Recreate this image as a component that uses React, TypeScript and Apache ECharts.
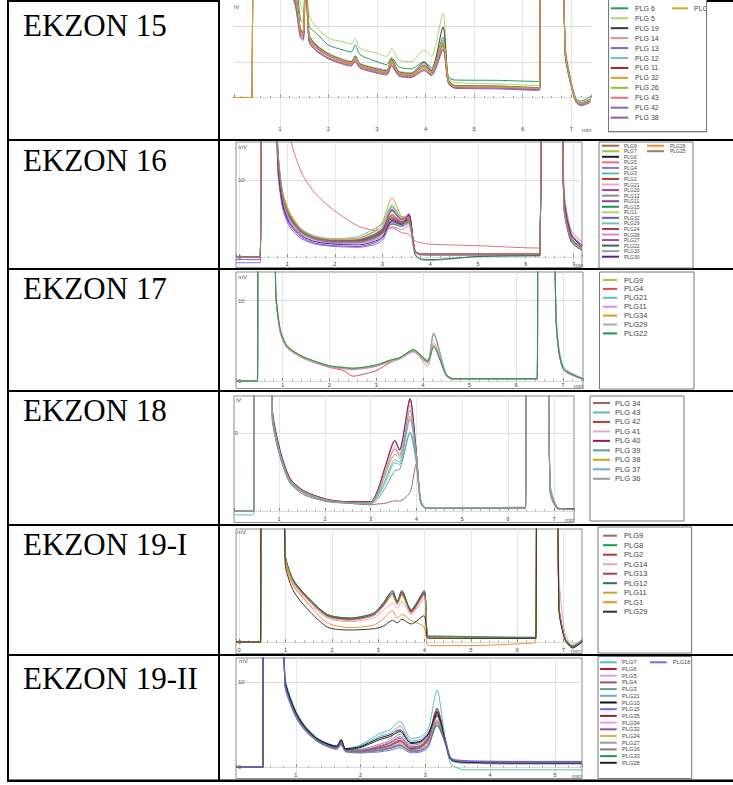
import React, { useEffect, useRef } from "react";
import * as echarts from "echarts";

// ---------- row labels ----------
const ROW_LABELS = ["EKZON 15", "EKZON 16", "EKZON 17", "EKZON 18", "EKZON 19-I", "EKZON 19-II"];

// ---------- EKZON 15 ----------
const T1 = [0.04, 0.43, 0.44, 0.47, 1.3, 1.42, 1.48, 1.53, 1.6, 1.75, 2.0, 2.3, 2.47, 2.55, 2.65, 3.0, 3.2, 3.3, 3.45, 3.7, 3.97, 4.12, 4.36, 4.47, 4.6, 5.5, 6.33, 6.35, 6.42, 6.78, 6.88, 7.0, 7.1, 7.2, 7.4];
const N1 = ["PLG 6", "PLG 5", "PLG 19", "PLG 14", "PLG 13", "PLG 12", "PLG 11", "PLG 32", "PLG 26", "PLG 43", "PLG 42", "PLG 38", "PLG"];
const C1 = ["#1f9e5c", "#a8d86e", "#3a3a3a", "#ec8a93", "#7868d8", "#6cc7c2", "#a31f2b", "#d9a520", "#8cc63e", "#e6707c", "#7d68cc", "#9b5a9b", "#d9a520"];
const V1 = [
  [0, 0, 0, 60, 34, 22, 21, 40, 20, 18, 14.7, 13.3, 12.8, 14.7, 12, 10, 9.2, 11.2, 8.6, 8, 10, 8.3, 16.9, 5.8, 4.9, 4.8, 4.5, 4.5, 60, 60, 14, 4.5, -0.3, -1, 0.3],
  [0, 0, 0, 60, 40, 26, 24, 40, 23, 19.8, 16.6, 15.6, 15, 16.6, 13.8, 12.4, 11.5, 13.8, 10.5, 10, 13.3, 11.5, 23.6, 5.5, 4.2, 3.8, 3.4, 3.4, 60, 60, 13.5, 4.2, -0.6, -1.3, -0.2],
  [0, 0, 0, 60, 30, 19, 18, 40, 17.5, 14.6, 12.2, 10.5, 10, 11.6, 9.4, 8.0, 7.5, 10.8, 7.2, 6.8, 9.8, 7.6, 19.7, 5.0, 3.4, 3.2, 2.8, 2.8, 60, 60, 13, 3.9, -0.8, -1.6, -0.6],
  [0, 0, 0, 60, 29, 18.5, 17.5, 38, 16.8, 14, 11.8, 10.2, 9.6, 11, 9, 7.6, 7.1, 10, 6.8, 6.4, 8.8, 7, 15.5, 4.6, 3.1, 3.0, 2.6, 2.6, 60, 60, 12.5, 3.8, -0.9, -1.7, -0.7],
  [0, 0, 0, 60, 28, 18, 17, 37, 16.5, 13.8, 11.6, 10, 9.4, 10.8, 8.8, 7.4, 6.9, 9.6, 6.6, 6.2, 8.6, 6.8, 14.8, 4.4, 3.0, 2.9, 2.5, 2.5, 60, 60, 12.2, 3.6, -1, -1.8, -0.8],
  [0, 0, 0, 60, 30, 19.5, 18.5, 40, 17.8, 14.8, 12.4, 10.7, 10.2, 11.8, 9.6, 8.2, 7.7, 11, 7.4, 7.0, 9.2, 7.8, 16.1, 4.9, 3.3, 3.2, 2.8, 2.8, 60, 60, 13, 3.9, -0.7, -1.5, -0.5],
  [0, 0, 0, 60, 30, 19, 18.2, 40, 17.4, 14.5, 12.1, 10.5, 9.9, 11.4, 9.3, 7.9, 7.4, 10.6, 7.1, 6.7, 9.0, 7.4, 15.2, 4.8, 3.3, 3.1, 2.7, 2.7, 60, 60, 12.8, 3.9, -0.8, -1.6, -0.5],
  [0, 0, 0, 60, 28, 17.5, 16.8, 36, 16, 13.4, 11.2, 9.7, 9.2, 10.4, 8.6, 7.2, 6.7, 9.3, 6.4, 6.0, 8.0, 6.5, 14.2, 4.2, 2.8, 2.7, 2.3, 2.3, 60, 60, 12, 3.5, -1.1, -2, -0.9],
  [0, 0, 0, 60, 29, 18.6, 17.6, 38, 17, 14.2, 11.9, 10.3, 9.7, 11.2, 9.1, 7.7, 7.2, 10.2, 6.9, 6.5, 8.7, 7.1, 15.0, 4.6, 3.2, 3.0, 2.6, 2.6, 60, 60, 12.6, 3.8, -0.9, -1.7, -0.6],
  [0, 0, 0, 60, 28.5, 18.2, 17.2, 37, 16.6, 13.9, 11.7, 10.1, 9.5, 10.9, 8.9, 7.5, 7.0, 9.8, 6.7, 6.3, 8.4, 6.9, 14.5, 4.5, 3.0, 2.9, 2.4, 2.4, 60, 60, 12.3, 3.7, -1, -1.8, -0.7],
  [0, 0, 0, 60, 27, 17.2, 16.5, 36, 15.8, 13.2, 11, 9.5, 9.0, 10.2, 8.4, 7.0, 6.5, 9.0, 6.2, 5.8, 7.8, 6.3, 13.6, 4.1, 2.7, 2.6, 2.2, 2.2, 60, 60, 11.8, 3.4, -1.2, -2.1, -1],
  [0, 0, 0, 60, 26.5, 16.8, 16, 35, 15.5, 13, 10.8, 9.3, 8.8, 10, 8.2, 6.8, 6.3, 8.8, 6.0, 5.6, 7.5, 6.1, 13.3, 4.0, 2.6, 2.4, 2.0, 2.0, 60, 60, 11.5, 3.3, -1.3, -2.3, -1.4],
  [0, 0, 0, 60, 29.5, 18.8, 17.8, 39, 17.2, 14.3, 12, 10.4, 9.8, 11.3, 9.2, 7.8, 7.3, 10.4, 7.0, 6.6, 8.9, 7.2, 15.7, 4.7, 3.2, 3.0, 2.6, 2.6, 60, 60, 12.7, 3.8, -0.9, -1.6, -0.6],
];

// ---------- EKZON 16 ----------
const T2 = [-0.07, 0.42, 0.44, 0.48, 0.72, 0.8, 0.9, 1.05, 1.3, 1.6, 2.0, 2.5, 2.8, 3.0, 3.2, 3.4, 3.55, 3.68, 3.8, 4.0, 5.0, 6.28, 6.3, 6.36, 6.4, 6.68, 6.8, 6.95, 7.18];
const N2 = ["PLG9", "PLG7", "PLG6", "PLG5", "PLG4", "PLG3", "PLG2", "PLG21", "PLG20", "PLG12", "PLG11", "PLG15", "PLG1", "PLG32", "PLG29", "PLG24", "PLG28", "PLG27", "PLG22", "PLG33", "PLG30", "PLG26", "PLG25"];
const C2 = ["#a0675b", "#9acd32", "#1e1e1e", "#e8707e", "#8470d8", "#5dbdb8", "#c0392b", "#eaa8dc", "#a0488f", "#8c8c8c", "#8e44ad", "#1a9850", "#a6d96a", "#6a5acd", "#66c2c2", "#b03a3a", "#e088d4", "#9c4f9c", "#2e6b50", "#9a9a9a", "#5b1a9a", "#f28e2b", "#a57868"];
const V2 = [
  [0, 0, 0, 60, 60, 14, 8, 5.4, 3.4, 2.4, 2.0, 2.1, 2.6, 3.4, 5.6, 4.6, 5.0, 0.8, 0.4, 0.4, 0.4, 0.4, 0.4, 60, 60, 60, 7, 2.4, 1.2],
  [0, 0, 0, 60, 60, 15, 8.6, 5.8, 3.6, 2.6, 2.2, 2.3, 2.9, 3.8, 6.6, 5.0, 5.4, 0.9, 0.5, 0.5, 0.5, 0.4, 0.4, 60, 60, 60, 7.5, 2.6, 1.3],
  [0, 0, 0, 60, 60, 14.5, 8.2, 5.5, 3.4, 2.5, 2.1, 2.2, 2.7, 3.4, 5.0, 4.4, 4.8, 0.8, 0.4, 0.4, 0.4, 0.4, 0.4, 60, 60, 60, 7.2, 2.5, 1.2],
  [0, 0, 0, 60, 60, 60, 30, 16, 11, 8.2, 6.0, 4.0, 3.5, 3.4, 3.8, 3.2, 3.0, 2.1, 1.9, 1.7, 1.5, 1.2, 1.2, 60, 60, 60, 9, 3.5, 2.0],
  [-0.7, -0.7, -0.7, 60, 60, 12, 6.5, 4.0, 2.4, 1.7, 1.4, 1.3, 1.6, 2.2, 4.4, 4.0, 5.7, 0.8, 0.4, 0.3, 0.3, 0.3, 0.3, 60, 60, 60, 8, 3.0, 1.5],
  [0, 0, 0, 60, 60, 13.5, 7.6, 5.0, 3.2, 2.4, 2.1, 2.4, 3.2, 4.2, 6.8, 5.2, 5.2, 0.4, -0.3, -0.4, 0.1, 0.2, 0.2, 60, 60, 60, 6.5, 2.0, 0.9],
  [0, 0, 0, 60, 60, 14, 8, 5.3, 3.3, 2.4, 2.0, 2.0, 2.5, 3.2, 5.2, 4.5, 4.9, 0.8, 0.4, 0.4, 0.4, 0.4, 0.4, 60, 60, 60, 7, 2.4, 1.1],
  [0, 0, 0, 60, 60, 13, 7.3, 4.7, 2.9, 2.1, 1.8, 1.8, 2.2, 2.8, 4.0, 3.6, 4.2, 0.7, 0.4, 0.4, 0.4, 0.4, 0.4, 60, 60, 60, 6.8, 2.3, 1.1],
  [0, 0, 0, 60, 60, 14.2, 8.1, 5.4, 3.4, 2.5, 2.1, 2.1, 2.7, 3.5, 6.0, 4.8, 5.3, 0.8, 0.4, 0.4, 0.4, 0.4, 0.4, 60, 60, 60, 7.2, 2.5, 1.2],
  [0, 0, 0, 60, 60, 13.8, 7.8, 5.1, 3.2, 2.3, 1.9, 1.9, 2.4, 3.1, 4.8, 4.3, 4.6, 0.7, 0.4, 0.4, 0.4, 0.4, 0.4, 60, 60, 60, 7, 2.4, 1.1],
  [0, 0, 0, 60, 60, 14.6, 8.4, 5.6, 3.5, 2.6, 2.2, 2.3, 2.9, 3.7, 6.2, 5.0, 5.5, 0.8, 0.4, 0.4, 0.4, 0.4, 0.4, 60, 60, 60, 7.4, 2.6, 1.2],
  [0, 0, 0, 60, 60, 14.3, 8.2, 5.5, 3.4, 2.5, 2.1, 2.1, 2.6, 3.3, 4.6, 4.2, 4.7, 0.8, 0.4, 0.4, 0.4, 0.4, 0.4, 60, 60, 60, 7.1, 2.5, 1.2],
  [0, 0, 0, 60, 60, 15, 8.7, 5.9, 3.7, 2.7, 2.3, 2.4, 3.0, 3.9, 6.4, 5.1, 5.2, 0.9, 0.5, 0.5, 0.5, 0.5, 0.5, 60, 60, 60, 7.4, 2.6, 1.3],
  [-0.3, -0.3, -0.3, 60, 60, 12.5, 6.9, 4.3, 2.6, 1.8, 1.5, 1.4, 1.8, 2.5, 4.6, 4.2, 5.1, 0.7, 0.3, 0.3, 0.3, 0.3, 0.3, 60, 60, 60, 8.2, 3.1, 1.6],
  [0, 0, 0, 60, 60, 14.8, 8.5, 5.7, 3.6, 2.7, 2.4, 2.7, 3.6, 4.4, 6.5, 5.1, 5.0, 0.8, 0.4, 0.4, 0.4, 0.4, 0.4, 60, 60, 60, 7.3, 2.5, 1.2],
  [0, 0, 0, 60, 60, 14.1, 8.1, 5.3, 3.3, 2.4, 2.0, 2.0, 2.5, 3.2, 5.4, 4.6, 5.0, 0.8, 0.4, 0.4, 0.4, 0.4, 0.4, 60, 60, 60, 7.1, 2.4, 1.2],
  [0, 0, 0, 60, 60, 13.2, 7.4, 4.8, 3.0, 2.2, 1.8, 1.8, 2.2, 2.8, 3.9, 3.6, 4.1, 0.7, 0.4, 0.4, 0.4, 0.4, 0.4, 60, 60, 60, 6.9, 2.4, 1.1],
  [0, 0, 0, 60, 60, 14.4, 8.3, 5.5, 3.4, 2.5, 2.1, 2.2, 2.8, 3.6, 6.1, 4.9, 5.4, 0.8, 0.4, 0.4, 0.4, 0.4, 0.4, 60, 60, 60, 7.3, 2.5, 1.2],
  [0, 0, 0, 60, 60, 13.9, 7.9, 5.2, 3.3, 2.4, 2.0, 2.0, 2.5, 3.1, 4.3, 4.0, 4.5, 0.4, -0.2, -0.3, 0.1, 0.2, 0.2, 60, 60, 60, 6.6, 2.1, 0.9],
  [0, 0, 0, 60, 60, 13.6, 7.7, 5.0, 3.1, 2.3, 1.9, 1.9, 2.3, 3.0, 4.4, 4.0, 4.4, 0.7, 0.4, 0.4, 0.4, 0.4, 0.4, 60, 60, 60, 6.9, 2.3, 1.1],
  [0, 0, 0, 60, 60, 12.8, 7.1, 4.5, 2.8, 2.0, 1.7, 1.6, 2.0, 2.6, 4.8, 4.3, 5.5, 0.8, 0.4, 0.4, 0.4, 0.4, 0.4, 60, 60, 60, 7.8, 2.9, 1.4],
  [0, 0, 0, 60, 60, 14.7, 8.5, 5.7, 3.5, 2.6, 2.3, 2.5, 3.3, 4.6, 7.7, 5.3, 5.1, 0.8, 0.4, 0.4, 0.4, 0.4, 0.4, 60, 60, 60, 7.2, 2.5, 1.2],
  [0, 0, 0, 60, 60, 14, 8, 5.3, 3.3, 2.4, 2.0, 2.0, 2.5, 3.2, 5.1, 4.4, 4.8, 0.8, 0.4, 0.4, 0.4, 0.4, 0.4, 60, 60, 60, 7, 2.4, 1.2],
];

// ---------- EKZON 17 ----------
const T3 = [0, 0.44, 0.46, 0.49, 0.78, 0.85, 0.95, 1.1, 1.45, 2.0, 2.3, 2.5, 2.7, 3.0, 3.3, 3.5, 3.8, 4.1, 4.23, 4.5, 4.65, 5.5, 6.43, 6.45, 6.5, 6.75, 6.85, 7.0, 7.43];
const N3 = ["PLG9", "PLG4", "PLG21", "PLG11", "PLG34", "PLG29", "PLG22"];
const C3 = ["#9acd32", "#e9455a", "#5bbdbd", "#e08ad8", "#d4a017", "#aaaaaa", "#1a9850"];
const V3 = [
  [0, 0, 0, 60, 60, 11.5, 6.4, 4.4, 3.0, 1.9, 1.7, 1.6, 1.7, 2.0, 2.6, 2.9, 3.9, 2.5, 4.5, 0.8, 0.3, 0.3, 0.3, 0.3, 60, 60, 8.5, 1.6, 0.3],
  [0, 0, 0, 60, 60, 11, 6.0, 4.1, 2.8, 1.7, 1.3, 0.6, 0.8, 1.3, 2.3, 2.8, 3.7, 2.3, 5.8, 0.7, 0.2, 0.2, 0.2, 0.2, 60, 60, 8, 1.5, 0.2],
  [0, 0, 0, 60, 60, 11.2, 6.2, 4.2, 2.9, 1.8, 1.6, 1.5, 1.6, 1.9, 2.5, 2.9, 3.8, 2.6, 6.0, 0.9, 0.3, 0.2, 0.2, 0.2, 60, 60, 9, 1.9, 0.3],
  [0, 0, 0, 60, 60, 11, 6.0, 4.1, 2.8, 1.7, 1.5, 1.4, 1.5, 1.8, 2.4, 2.7, 3.6, 2.2, 4.8, 0.6, 0.2, 0.2, 0.2, 0.2, 60, 60, 8.2, 1.5, 0.2],
  [0, 0, 0, 60, 60, 11.3, 6.2, 4.3, 2.9, 1.8, 1.6, 1.5, 1.6, 1.9, 2.5, 2.8, 3.8, 2.4, 4.4, 0.7, 0.3, 0.3, 0.3, 0.3, 60, 60, 8.4, 1.6, 0.3],
  [0, 0, 0, 60, 60, 11.1, 6.1, 4.2, 2.9, 1.8, 1.6, 1.5, 1.6, 1.9, 2.4, 2.8, 3.7, 1.8, 4.3, 0.8, 0.3, 0.2, 0.2, 0.2, 60, 60, 8.6, 1.7, 0.2],
  [0, 0, 0, 60, 60, 11.4, 6.3, 4.3, 3.0, 1.9, 1.7, 1.6, 1.7, 2.0, 2.6, 2.9, 3.9, 2.5, 4.2, 0.8, 0.3, 0.3, 0.3, 0.3, 60, 60, 8.3, 1.6, 0.3],
];

// ---------- EKZON 18 ----------
const T4 = [0.02, 0.43, 0.45, 0.48, 0.75, 0.85, 1.02, 1.24, 1.54, 2.05, 2.5, 3.0, 3.15, 3.32, 3.53, 3.63, 3.86, 3.99, 4.09, 4.2, 5.0, 6.36, 6.38, 6.45, 6.78, 6.92, 7.1, 7.44];
const N4 = ["PLG 34", "PLG 43", "PLG 42", "PLG 41", "PLG 40", "PLG 39", "PLG 38", "PLG 37", "PLG 36"];
const C4 = ["#a0665c", "#5bbdbd", "#c0392b", "#e3a8e0", "#8b1a6b", "#5f9f8f", "#d4a017", "#5dade2", "#999999"];
const V4 = [
  [0, 0, 0, 60, 60, 12, 7.0, 3.6, 2.1, 1.2, 1.0, 0.8, 0.9, 1.0, 1.3, 1.3, 2.4, 6.0, 1.0, 0.4, 0.4, 0.4, 0.4, 60, 60, 2.4, 0.3, 0.3],
  [-0.5, -0.5, -0.5, 60, 60, 12.5, 7.4, 3.9, 2.4, 1.4, 1.1, 1.0, 1.8, 3.6, 6.2, 6.0, 10.2, 7.0, 1.2, 0.3, 0.3, 0.3, 0.3, 60, 60, 3.5, 0.4, 0.2],
  [0, 0, 0, 60, 60, 13.2, 7.8, 4.2, 2.6, 1.5, 1.2, 1.2, 2.6, 5.6, 9.0, 7.8, 14.3, 8.0, 1.5, 0.4, 0.4, 0.4, 0.4, 60, 60, 2.8, 0.3, 0.3],
  [0, 0, 0, 60, 60, 13, 7.6, 4.0, 2.5, 1.4, 1.1, 1.1, 2.4, 5.2, 8.3, 7.3, 13.6, 7.8, 1.4, 0.4, 0.4, 0.4, 0.4, 60, 60, 3.0, 0.3, 0.2],
  [0, 0, 0, 60, 60, 13.4, 7.9, 4.2, 2.6, 1.5, 1.2, 1.2, 2.6, 5.8, 9.1, 7.9, 14.5, 8.1, 1.5, 0.4, 0.4, 0.4, 0.4, 60, 60, 2.9, 0.3, 0.3],
  [0, 0, 0, 60, 60, 12.2, 7.1, 3.7, 2.3, 1.3, 1.0, 0.9, 1.5, 3.0, 5.2, 5.3, 10.0, 6.5, 1.3, 0.4, 0.4, 0.4, 0.4, 60, 60, 2.6, 0.2, 0.2],
  [0, 0, 0, 60, 60, 12.6, 7.3, 3.9, 2.4, 1.4, 1.1, 1.0, 2.1, 4.6, 7.3, 6.8, 12.2, 7.4, 1.4, 0.4, 0.4, 0.5, 0.5, 60, 60, 2.2, 0.3, 0.2],
  [0, 0, 0, 60, 60, 12.4, 7.2, 3.8, 2.3, 1.3, 1.1, 1.0, 1.9, 4.0, 6.6, 6.3, 11.8, 7.2, 1.3, 0.4, 0.4, 0.4, 0.4, 60, 60, 3.2, 0.4, 0.2],
  [0, 0, 0, 60, 60, 12.8, 7.5, 4.0, 2.5, 1.4, 1.1, 1.1, 2.3, 5.0, 8.0, 7.1, 13.0, 7.6, 1.4, 0.4, 0.4, 0.4, 0.4, 60, 60, 2.7, 0.3, 0.2],
];

// ---------- EKZON 19-I ----------
const T5 = [-0.07, 0.44, 0.46, 0.49, 0.85, 0.99, 1.15, 1.39, 1.9, 2.4, 2.9, 3.1, 3.31, 3.41, 3.51, 3.71, 3.99, 4.07, 4.2, 5.0, 6.3, 6.4, 6.45, 6.78, 6.9, 7.03, 7.2, 7.4];
const N5 = ["PLG9", "PLG8", "PLG2", "PLG14", "PLG13", "PLG12", "PLG11", "PLG1", "PLG29"];
const C5 = ["#a0665c", "#1a9850", "#c0392b", "#e3a0d8", "#9e3a8a", "#2f6f5f", "#c8a82a", "#f28e2b", "#333333"];
const V5 = [
  [0, 0, 0, 60, 60, 7.3, 5.2, 4.0, 2.2, 1.9, 2.3, 3.1, 4.1, 3.3, 4.1, 2.5, 4.0, 0.4, 0.4, 0.35, 0.3, 0.3, 60, 60, 3, 0.3, -0.4, 0.1],
  [0, 0, 0, 60, 60, 7.4, 5.3, 4.1, 2.3, 2.0, 2.4, 3.2, 4.2, 3.4, 4.2, 2.6, 4.2, 0.5, 0.5, 0.45, 0.4, 0.4, 60, 60, 3.2, 0.4, -0.3, 0.2],
  [0, 0, 0, 60, 60, 7.2, 5.1, 3.9, 2.2, 1.9, 2.2, 3.0, 4.0, 3.2, 4.0, 2.5, 4.1, 0.4, 0.4, 0.35, 0.3, 0.3, 60, 60, 3, 0.3, -0.4, 0.1],
  [0, 0, 0, 60, 60, 7.0, 4.9, 3.7, 2.0, 1.7, 2.0, 2.6, 3.2, 2.8, 3.4, 2.3, 3.6, 0.4, 0.4, 0.35, 0.3, 0.3, 60, 60, 6, 0.8, -0.2, 0.1],
  [0, 0, 0, 60, 60, 7.3, 5.2, 4.0, 2.2, 1.9, 2.3, 3.1, 4.0, 3.3, 4.2, 2.6, 4.1, 0.4, 0.4, 0.35, 0.3, 0.3, 60, 60, 3.1, 0.3, -0.4, 0.1],
  [0, 0, 0, 60, 60, 7.4, 5.3, 4.1, 2.3, 2.0, 2.4, 3.2, 4.3, 3.4, 4.3, 2.7, 4.3, 0.5, 0.45, 0.4, 0.35, 0.35, 60, 60, 3.2, 0.3, -0.4, 0.1],
  [0, 0, 0, 60, 60, 7.2, 5.1, 3.9, 2.1, 1.8, 2.2, 2.9, 3.8, 3.1, 3.9, 2.4, 3.9, 0.4, 0.4, 0.35, 0.3, 0.3, 60, 60, 3, 0.3, -0.5, 0.0],
  [0, 0, 0, 60, 60, 7.0, 4.8, 3.6, 1.6, 1.2, 1.4, 1.9, 2.6, 2.0, 2.3, 1.8, 1.25, -0.3, -0.3, -0.3, -0.1, 0.0, 60, 60, 3, 0.2, -0.5, 0.0],
  [0, 0, 0, 60, 60, 6.6, 4.4, 3.1, 1.25, 1.0, 1.1, 1.3, 1.8, 1.6, 1.9, 1.5, 2.2, 0.3, 0.3, 0.3, 0.3, 0.3, 60, 60, 2.8, 0.2, -0.5, 0.0],
];

// ---------- EKZON 19-II ----------
const T6 = [0.08, 0.47, 0.49, 0.52, 0.76, 0.83, 0.98, 1.12, 1.34, 1.63, 1.7, 1.77, 1.99, 2.28, 2.45, 2.61, 2.78, 2.93, 3.05, 3.18, 3.32, 3.4, 3.6, 4.5, 5.42];
const N6 = ["PLG7", "PLG6", "PLG5", "PLG4", "PLG3", "PLG21", "PLG10", "PLG15", "PLG35", "PLG34", "PLG32", "PLG24", "PLG27", "PLG16", "PLG33", "PLG28", "PLG18"];
const C6 = ["#5bbdb8", "#b22234", "#e3a0d8", "#a0488f", "#5f9f8f", "#5dade2", "#111111", "#7b68ee", "#a02030", "#eea0dd", "#9e4f9e", "#d8b84a", "#999999", "#a07060", "#1a9850", "#222222", "#7b68ee"];
const V6 = [
  [0, 0, 0, 60, 60, 10.8, 7.0, 5.1, 3.4, 2.5, 3.4, 2.2, 2.6, 3.9, 4.4, 5.4, 3.4, 3.6, 4.6, 9.1, 2.6, 0.4, -0.3, -0.3, -0.3],
  [0, 0, 0, 60, 60, 10.2, 6.6, 4.8, 3.2, 2.3, 3.0, 2.0, 1.9, 2.3, 2.6, 3.2, 2.2, 2.4, 3.4, 6.4, 2.8, 1.0, 0.7, 0.6, 0.6],
  [0, 0, 0, 60, 60, 10.0, 6.4, 4.7, 3.1, 2.2, 2.8, 1.9, 1.8, 2.0, 2.3, 2.8, 2.0, 2.1, 2.9, 5.2, 2.6, 0.9, 0.6, 0.5, 0.5],
  [0, 0, 0, 60, 60, 10.3, 6.6, 4.9, 3.2, 2.4, 3.1, 2.1, 2.0, 2.5, 2.9, 3.6, 2.4, 2.6, 3.6, 6.8, 2.9, 1.0, 0.7, 0.6, 0.6],
  [0, 0, 0, 60, 60, 10.4, 6.7, 4.9, 3.3, 2.4, 3.2, 2.1, 2.1, 2.7, 3.1, 3.9, 2.6, 2.8, 3.8, 7.0, 2.7, 0.9, 0.6, 0.5, 0.5],
  [0, 0, 0, 60, 60, 10.6, 6.9, 5.0, 3.4, 2.5, 3.3, 2.2, 2.5, 3.6, 4.0, 4.8, 3.1, 3.3, 4.2, 6.0, 2.5, 0.8, 0.5, 0.4, 0.4],
  [0, 0, 0, 60, 60, 10.5, 6.8, 5.0, 3.3, 2.5, 3.2, 2.2, 2.4, 3.4, 3.8, 4.4, 2.9, 3.1, 4.0, 6.2, 2.6, 0.9, 0.6, 0.5, 0.5],
  [0, 0, 0, 60, 60, 9.8, 6.2, 4.5, 3.0, 2.1, 2.6, 1.8, 1.7, 1.8, 2.0, 2.3, 1.7, 1.8, 2.4, 5.5, 2.8, 1.1, 0.8, 0.7, 0.7],
  [0, 0, 0, 60, 60, 10.1, 6.5, 4.8, 3.2, 2.3, 2.9, 2.0, 1.9, 2.2, 2.5, 3.0, 2.1, 2.3, 3.2, 6.6, 2.9, 1.0, 0.7, 0.6, 0.6],
  [0, 0, 0, 60, 60, 10.2, 6.6, 4.8, 3.2, 2.3, 3.0, 2.0, 2.0, 2.6, 3.3, 4.9, 2.8, 2.9, 3.7, 5.6, 2.7, 0.9, 0.6, 0.5, 0.5],
  [0, 0, 0, 60, 60, 10.3, 6.7, 4.9, 3.2, 2.4, 3.1, 2.1, 2.0, 2.4, 2.8, 3.4, 2.3, 2.5, 3.5, 6.9, 3.0, 1.0, 0.7, 0.6, 0.6],
  [0, 0, 0, 60, 60, 10.0, 6.4, 4.7, 3.1, 2.2, 2.8, 1.9, 1.8, 2.1, 2.4, 2.7, 2.0, 2.2, 3.0, 5.6, 2.7, 0.9, 0.6, 0.5, 0.5],
  [0, 0, 0, 60, 60, 9.9, 6.3, 4.6, 3.0, 2.2, 2.7, 1.9, 1.7, 1.9, 2.2, 2.5, 1.8, 1.9, 2.6, 4.9, 2.5, 0.8, 0.5, 0.4, 0.4],
  [0, 0, 0, 60, 60, 10.1, 6.5, 4.7, 3.1, 2.3, 2.9, 2.0, 1.9, 2.2, 2.5, 3.1, 2.1, 2.3, 3.2, 6.0, 2.7, 0.9, 0.6, 0.5, 0.5],
  [0, 0, 0, 60, 60, 10.0, 6.4, 4.7, 3.1, 2.2, 2.8, 1.9, 1.8, 2.0, 2.2, 2.6, 1.9, 2.0, 2.7, 5.0, 2.6, 0.9, 0.6, 0.5, 0.5],
  [0, 0, 0, 60, 60, 10.4, 6.8, 4.9, 3.3, 2.4, 3.2, 2.1, 2.3, 3.2, 3.6, 4.2, 2.8, 3.0, 3.9, 6.5, 2.7, 0.9, 0.6, 0.5, 0.5],
  [0, 0, 0, 60, 60, 9.9, 6.3, 4.6, 3.0, 2.2, 2.7, 1.9, 1.8, 2.0, 2.3, 2.6, 1.9, 2.0, 2.7, 5.3, 2.7, 1.0, 0.7, 0.6, 0.6],
];

const PANELS = [
  { t: T1, names: N1, colors: C1, values: V1 },
  { t: T2, names: N2, colors: C2, values: V2 },
  { t: T3, names: N3, colors: C3, values: V3 },
  { t: T4, names: N4, colors: C4, values: V4 },
  { t: T5, names: N5, colors: C5, values: V5 },
  { t: T6, names: N6, colors: C6, values: V6 },
];

// ---------- layout (positions / styles only) ----------
const LAYOUT: any[] = [
  {
    grid: { left: 234, top: 0, width: 357, height: 132.5 }, x: [0.052, 7.41], y: [-9.8, 27.3], frame: false,
    yLab: "none", xZero: false, unit: { text: "iV", x: 234, y: 7 }, minT: { x: 586.5, y: 130 },
    label: { y: 25.4 }, box: { x: 608.5, y: -5, w: 98, h: 136.7 }, cover: { x: 707, y: 2.5, w: 26, h: 136 },
    legends: [
      { count: 12, left: 610.7, center: 8.3, spacing: 9.94, font: 7, lh: 8, iconW: 17.6, pad: 1.7 },
      { count: 1, left: 672, center: 8.3, spacing: 9.94, font: 7, lh: 8, iconW: 16, pad: 1 },
    ],
  },
  {
    grid: { left: 236, top: 142, width: 346, height: 125.5 }, x: [-0.07, 7.18], y: [-1.32, 14.92], frame: true,
    yLab: "std", xZero: false, unit: { text: "mV", x: 238, y: 147 }, minT: { x: 578.5, y: 265 },
    label: { y: 160.4 }, box: { x: 599, y: 142, w: 94, h: 126 },
    legends: [
      { count: 21, left: 602, center: 145.7, spacing: 5.55, font: 5, lh: 5.5, iconW: 17, pad: 0 },
      { count: 2, left: 647, center: 145.7, spacing: 5.55, font: 5, lh: 5.5, iconW: 17, pad: 1 },
    ],
  },
  {
    grid: { left: 236, top: 272, width: 347, height: 116.5 }, x: [0, 7.43], y: [-0.93, 13.57], frame: true,
    yLab: "std", xZero: false, unit: { text: "mV", x: 238, y: 277 }, minT: { x: 578.5, y: 385.5 },
    label: { y: 288.4 }, box: { x: 599.5, y: 272, w: 94.5, h: 117 },
    legends: [{ count: 7, left: 603, center: 280, spacing: 8.9, font: 7.5, lh: 8, iconW: 14, pad: 2 }],
  },
  {
    grid: { left: 234, top: 396, width: 340, height: 126.5 }, x: [0.017, 7.44], y: [-1.48, 14.8], frame: true,
    yLab: "cut", xZero: false, unit: { text: "iV", x: 236, y: 400 }, minT: { x: 569.6, y: 519.5 },
    label: { y: 410.4 }, box: { x: 590, y: 396, w: 94, h: 125 },
    legends: [{ count: 9, left: 593, center: 403, spacing: 9.47, font: 7.5, lh: 8, iconW: 17, pad: 0 }],
  },
  {
    grid: { left: 236, top: 529, width: 346, height: 124.5 }, x: [-0.07, 7.4], y: [-0.96, 9.42], frame: true,
    yLab: "zero", xZero: true, unit: { text: "mV", x: 237, y: 532 }, minT: { x: 575.7, y: 650.5 },
    label: { y: 544.4 }, box: { x: 598, y: 527, w: 93.6, h: 126 },
    legends: [{ count: 9, left: 603, center: 535.7, spacing: 9.5, font: 7.5, lh: 8, iconW: 14, pad: 2 }],
  },
  {
    grid: { left: 236, top: 658, width: 346, height: 120.5 }, x: [0.077, 5.42], y: [-1.32, 12.86], frame: true,
    yLab: "std", xZero: false, unit: { text: "mV", x: 239, y: 661 }, minT: { x: 576.5, y: 775.5 },
    label: { y: 678.4 }, box: { x: 598, y: 656.5, w: 93.7, h: 122 },
    legends: [
      { count: 16, left: 600, center: 662.3, spacing: 6.7, font: 5.7, lh: 6.2, iconW: 16.7, pad: 0.3 },
      { count: 1, left: 650, center: 662.3, spacing: 6.7, font: 5.7, lh: 6.2, iconW: 16.7, pad: 1 },
    ],
  },
];

const ROW_LINES = [139, 268, 390, 524, 654];

export default function App() {
  const ref = useRef<HTMLDivElement>(null);

  useEffect(() => {
    if (!ref.current) return;
    const chart = echarts.init(ref.current, null, { renderer: "svg" });
    const grid: any[] = [];
    const xAxis: any[] = [];
    const yAxis: any[] = [];
    const series: any[] = [];
    const legend: any[] = [];
    const graphic: any[] = [];

    const black = "#000";
    // table borders
    graphic.push({ type: "rect", silent: true, z: 0, shape: { x: 7, y: 0, width: 213, height: 2 }, style: { fill: black } });
    graphic.push({ type: "rect", silent: true, z: 0, shape: { x: 706, y: 0, width: 27, height: 2 }, style: { fill: black } });
    graphic.push({ type: "rect", silent: true, z: 0, shape: { x: 7, y: 0, width: 2, height: 782 }, style: { fill: black } });
    graphic.push({ type: "rect", silent: true, z: 0, shape: { x: 218, y: 0, width: 2, height: 782 }, style: { fill: black } });
    ROW_LINES.forEach((y) => {
      graphic.push({ type: "rect", silent: true, z: 0, shape: { x: 7, y, width: 726, height: 2 }, style: { fill: black } });
    });
    graphic.push({ type: "rect", silent: true, z: 0, shape: { x: 7, y: 779.5, width: 726, height: 2.5 }, style: { fill: black } });

    PANELS.forEach((p, i) => {
      const L = LAYOUT[i];
      graphic.push({
        type: "text", silent: true, z: 5, x: 23, y: L.label.y,
        style: { text: ROW_LABELS[i], font: '31px "Liberation Serif"', fill: "#000", textAlign: "left", textVerticalAlign: "middle" },
      });
      graphic.push({
        type: "text", silent: true, z: 5, x: L.unit.x, y: L.unit.y,
        style: { text: L.unit.text, font: '6px "Liberation Sans"', fill: "#555", textAlign: "left", textVerticalAlign: "middle" },
      });
      graphic.push({
        type: "text", silent: true, z: 5, x: L.minT.x, y: L.minT.y,
        style: { text: "min", font: '6px "Liberation Sans"', fill: "#555", textAlign: "center", textVerticalAlign: "middle" },
      });
      graphic.push({
        type: "rect", silent: true, z: 1,
        shape: { x: L.box.x, y: L.box.y, width: L.box.w, height: L.box.h },
        style: { fill: "#fff", stroke: "#777", lineWidth: 1 },
      });
      if (L.cover) {
        graphic.push({
          type: "rect", silent: true, z: 100,
          shape: { x: L.cover.x, y: L.cover.y, width: L.cover.w, height: L.cover.h },
          style: { fill: "#fff" },
        });
        graphic.push({
          type: "rect", silent: true, z: 101,
          shape: { x: L.box.x, y: L.box.y, width: L.box.w, height: L.box.h },
          style: { fill: "none", stroke: "#777", lineWidth: 1 },
        });
      }

      grid.push({
        left: L.grid.left, top: L.grid.top, width: L.grid.width, height: L.grid.height,
        show: L.frame, borderColor: "#8c8c8c", borderWidth: 1, backgroundColor: "#fff",
      });

      const xZero = L.xZero;
      xAxis.push({
        type: "value", gridIndex: i, min: L.x[0], max: L.x[1], minInterval: 1, maxInterval: 1,
        axisLine: { show: false },
        axisTick: { show: true, inside: true, length: 3, lineStyle: { color: "#888" } },
        minorTick: { show: true, splitNumber: 5, length: 1.5, lineStyle: { color: "#999" } },
        splitLine: { show: true, showMinLine: false, showMaxLine: false, lineStyle: { color: "#e6e6e6", width: 1 } },
        axisLabel: {
          inside: true, fontSize: 6, color: "#555", margin: 0.5, showMinLabel: false, showMaxLabel: false,
          fontFamily: "Liberation Sans",
          formatter: (v: number) => {
            const r = Math.round(v);
            if (Math.abs(v - r) > 1e-6) return "";
            if (r === 0 && !xZero) return "";
            return String(r);
          },
        },
      });

      const yLab = L.yLab;
      yAxis.push({
        type: "value", gridIndex: i, min: L.y[0], max: L.y[1], minInterval: 10, maxInterval: 10,
        axisLine: { show: false }, axisTick: { show: false },
        splitLine: { show: true, showMinLine: false, showMaxLine: false, lineStyle: { color: "#dadada", width: 1 } },
        axisLabel: {
          show: yLab !== "none", inside: true, fontSize: 6, color: "#555", margin: yLab === "cut" ? 0.5 : 2,
          showMinLabel: false, showMaxLabel: false, fontFamily: "Liberation Sans",
          formatter: (v: number) => {
            const r = Math.round(v * 1000) / 1000;
            if (yLab === "std") return r === 0 || r === 10 ? String(r) : "";
            if (yLab === "zero") return r === 0 ? "0" : "";
            if (yLab === "cut") return r === 10 ? "0" : "";
            return "";
          },
        },
      });

      p.names.forEach((nm, k) => {
        const c = p.colors[k];
        series.push({
          type: "line", name: nm + "#" + i, xAxisIndex: i, yAxisIndex: i,
          data: p.t.map((x, j) => [x, p.values[k][j]]),
          symbol: "none", showSymbol: false, color: c, smooth: 0.25,
          lineStyle: { width: 1, color: c }, itemStyle: { color: c },
          silent: true, clip: true, z: 2,
        });
      });

      let start = 0;
      L.legends.forEach((lg: any) => {
        const names = p.names.slice(start, start + lg.count).map((n) => n + "#" + i);
        start += lg.count;
        legend.push({
          orient: "vertical", left: lg.left, top: lg.center - lg.lh / 2, padding: 0,
          itemWidth: lg.iconW, itemHeight: 2, itemGap: lg.spacing - lg.lh, icon: "rect",
          selectedMode: false, data: names, z: 4,
          formatter: (n: string) => n.split("#")[0],
          textStyle: {
            fontSize: lg.font, lineHeight: lg.lh, color: "#444", fontFamily: "Liberation Sans",
            padding: [0, 0, 0, lg.pad],
          },
        });
      });
    });

    chart.setOption({
      animation: false,
      textStyle: { fontFamily: "Liberation Sans" },
      grid, xAxis, yAxis, series, legend,
      graphic: { elements: graphic },
    });
    return () => chart.dispose();
  }, []);

  return (
    <div
      ref={ref}
      style={{ position: "absolute", left: 0, top: 0, width: 733, height: 785, background: "#fff" }}
    />
  );
}
